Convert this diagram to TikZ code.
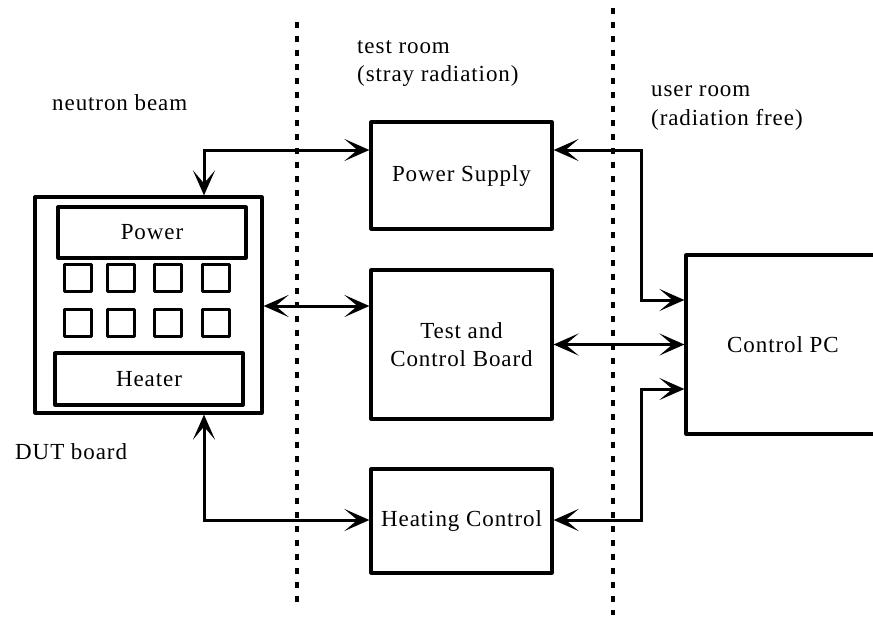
\documentclass[tikz,border=0pt]{standalone}
\usepackage{fontspec}
\setmainfont{Liberation Serif}[LetterSpace=4]
\usetikzlibrary{arrows.meta}
\begin{document}
\begin{tikzpicture}[x=1pt,y=-1pt,
  every node/.style={font=\fontsize{23}{28}\selectfont, inner sep=0pt},
  box/.style={draw, line width=3.2pt, line join=round, align=center},
  chip/.style={draw, line width=3pt, line join=round, minimum width=27pt, minimum height=27pt},
  tip/.style={Stealth[length=25pt,width=22pt,inset=13pt]},
  dbl/.style={line width=3pt, {Stealth[length=25pt,width=22pt,inset=13pt]}-{Stealth[length=25pt,width=22pt,inset=13pt]}},
  sep/.style={line width=3.5pt, dash pattern=on 6pt off 8pt},
  lbl/.style={anchor=west}]
\useasboundingbox (0,0) rectangle (873,619);

% room separators
\draw[sep] (297,22) -- (297,605);
\draw[sep] (613,8) -- (613,615);

% room and beam labels
\node[lbl] (tr1) at (357,47) {test room};
\node[lbl] (tr2) at (357,76) {(stray radiation)};
\node[lbl] (ur1) at (651,91) {user room};
\node[lbl] (ur2) at (651,120) {(radiation free)};
\node[lbl] (nb) at (52,103) {neutron beam};
\node[lbl] (db) at (15,452) {DUT board};

% DUT board with its parts
\node[box, minimum width=227pt, minimum height=216pt] (dut) at (148.5,305) {};
\node[box, minimum width=188pt, minimum height=51pt] (pw) at (152,232.5) {Power};
\node[box, minimum width=188pt, minimum height=52pt] (ht) at (149,379) {Heater};
\foreach \i/\cx in {1/78,2/121,3/168,4/216}{
  \node[chip] (ca\i) at (\cx,277.5) {};
  \node[chip] (cb\i) at (\cx,323) {};
}

% test room equipment
\node[box, minimum width=181pt, minimum height=107pt] (ps) at (461.5,175.5) {Power Supply};
\node[box, minimum width=181pt, minimum height=149pt] (tcb) at (461.5,344.5) {Test and\\Control Board};
\node[box, minimum width=181pt, minimum height=104pt] (hc) at (461.5,521) {Heating Control};

% user room
\node[box, minimum width=194pt, minimum height=179pt] (pc) at (783,344.5) {Control PC};

% routing helpers
\coordinate (lx) at (204,0);
\coordinate (rx) at (641,0);
\coordinate (y1) at (0,150);
\coordinate (y2) at (0,300);
\coordinate (y3) at (0,389);
\coordinate (y4) at (0,520);
\coordinate (y5) at (0,306);

% connections
\draw[dbl] (ps.west |- y1) -| (dut.north -| lx);
\draw[dbl] (dut.east |- y5) -- (tcb.west |- y5);
\draw[dbl] (dut.south -| lx) |- (hc.west |- y4);
\draw[dbl] (ps.east |- y1) -| (rx |- y2) -- (pc.west |- y2);
\draw[dbl] (tcb.east) -- (tcb.east -| pc.west);
\draw[dbl] (hc.east |- y4) -| (rx |- y3) -- (pc.west |- y3);
\end{tikzpicture}
\end{document}
